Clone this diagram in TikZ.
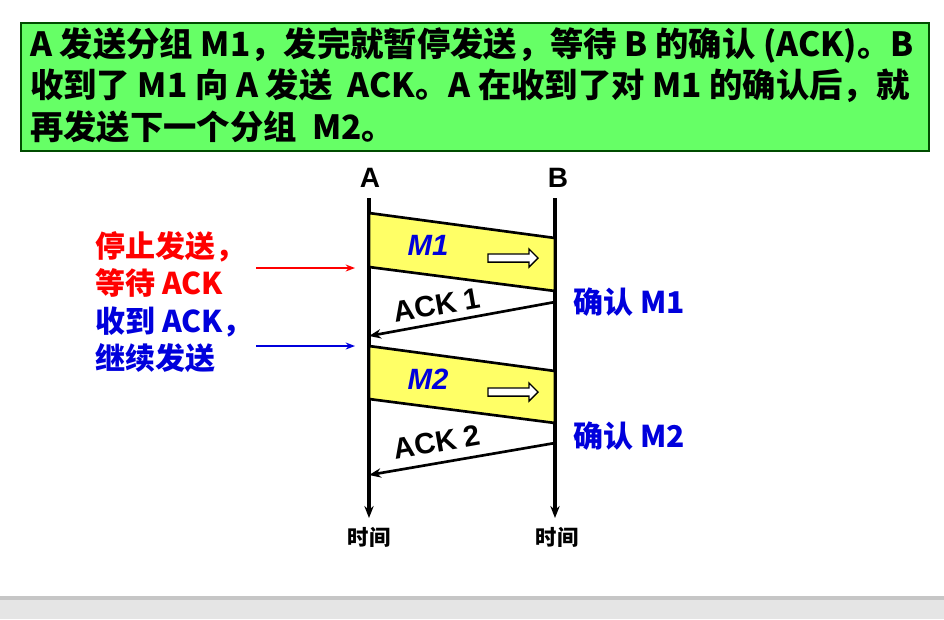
\documentclass[tikz,border=0pt]{standalone}
\usepackage{fontspec}
\setmainfont{Liberation Sans}
\newfontfamily\cjk{Noto Sans CJK SC}
\usetikzlibrary{arrows.meta,shapes.arrows}
\definecolor{boxgreen}{RGB}{102,255,102}
\definecolor{pkt}{RGB}{255,255,102}
\definecolor{dblue}{RGB}{0,0,220}
\begin{document}
\begin{tikzpicture}[x=0.75pt,y=-0.75pt,
  life/.style={line width=2.4pt,-{Stealth[length=9pt,width=7pt]}},
  pkt/.style={draw=black,line width=2pt,fill=pkt},
  ack/.style={line width=2pt,-{Stealth[length=9pt,width=7pt]}},
  big/.style={font=\cjk\bfseries\fontsize{25}{28}\selectfont},
  lbl/.style={font=\cjk\bfseries\fontsize{22.5}{26}\selectfont,anchor=west,inner sep=0pt}]
\useasboundingbox (0,0) rectangle (944,619);
\fill[gray!20] (0,596) rectangle (944,619);
\fill[gray!45] (0,596) rectangle (944,600);
\node[draw=black!70!green,line width=1.2pt,fill=boxgreen,minimum width=908*0.75pt,minimum height=128*0.75pt,anchor=north west,inner sep=0pt] (hdr) at (20,22) {};
\node[big,anchor=west,inner sep=0pt] (t1) at (30,45) {A 发送分组 M1，发完就暂停发送，等待 B 的确认 (ACK)。B};
\node[big,anchor=west,inner sep=0pt] (t2) at (30,86) {收到了 M1 向 A 发送\ \ ACK。A 在收到了对 M1 的确认后，就};
\node[big,anchor=west,inner sep=0pt] (t3) at (30,127) {再发送下一个分组\ \ M2。};
\node[font=\bfseries\fontsize{21}{24}\selectfont] (A) at (370,178) {A};
\node[font=\bfseries\fontsize{21}{24}\selectfont] (B) at (558,178) {B};
\coordinate (a0) at (369,198); \coordinate (a1) at (369,518);
\coordinate (b0) at (555,198); \coordinate (b1) at (555,518);
\draw[life] (a0) -- (a1);
\draw[life] (b0) -- (b1);
\node[font=\cjk\bfseries\fontsize{16}{18}\selectfont] (ta) at (369,537) {时间};
\node[font=\cjk\bfseries\fontsize{16}{18}\selectfont] (tb) at (557,537) {时间};
\draw[pkt] (369,213) -- (555,238) -- (555,291) -- (369,267) -- cycle;
\draw[pkt] (369,346) -- (555,371) -- (555,423) -- (369,399) -- cycle;
\node[font=\bfseries\itshape\fontsize{22}{24}\selectfont,text=dblue] (m1) at (428,245) {M1};
\node[font=\bfseries\itshape\fontsize{22}{24}\selectfont,text=dblue] (m2) at (428,379) {M2};
\node[single arrow,draw=black,line width=1pt,fill=white,minimum width=18*0.75pt,single arrow head extend=3pt,minimum height=50*0.75pt,inner sep=2pt] (h1) at (511,258) {};
\node[single arrow,draw=black,line width=1pt,fill=white,minimum width=18*0.75pt,single arrow head extend=3pt,minimum height=50*0.75pt,inner sep=2pt] (h2) at (511,392) {};
\coordinate (s1) at (555,302); \coordinate (r1) at (369,336);
\coordinate (s2) at (555,443); \coordinate (r2) at (369,475);
\draw[ack] (s1) -- (r1);
\draw[ack] (s2) -- (r2);
\node[font=\bfseries\fontsize{22}{24}\selectfont,rotate=10,inner sep=0pt] (k1) at (437,305) {ACK 1};
\node[font=\bfseries\fontsize{22}{24}\selectfont,rotate=10,inner sep=0pt] (k2) at (437,442) {ACK 2};
\node[lbl,text=red] (l1) at (95,247) {停止发送，};
\node[lbl,text=red] (l2) at (95,283) {等待 ACK};
\node[lbl,text=dblue] (l3) at (95,322) {收到 ACK，};
\node[lbl,text=dblue] (l4) at (95,358) {继续发送};
\coordinate (ra) at (256,268); \coordinate (rb) at (355,268);
\coordinate (ba) at (256,346); \coordinate (bb) at (355,346);
\draw[red,line width=1.4pt,-{Stealth[length=7pt]}] (ra) -- (rb);
\draw[dblue,line width=1.4pt,-{Stealth[length=7pt]}] (ba) -- (bb);
\node[lbl,text=dblue] (c1) at (573,302) {确认 M1};
\node[lbl,text=dblue] (c2) at (573,436) {确认 M2};
\end{tikzpicture}
\end{document}
